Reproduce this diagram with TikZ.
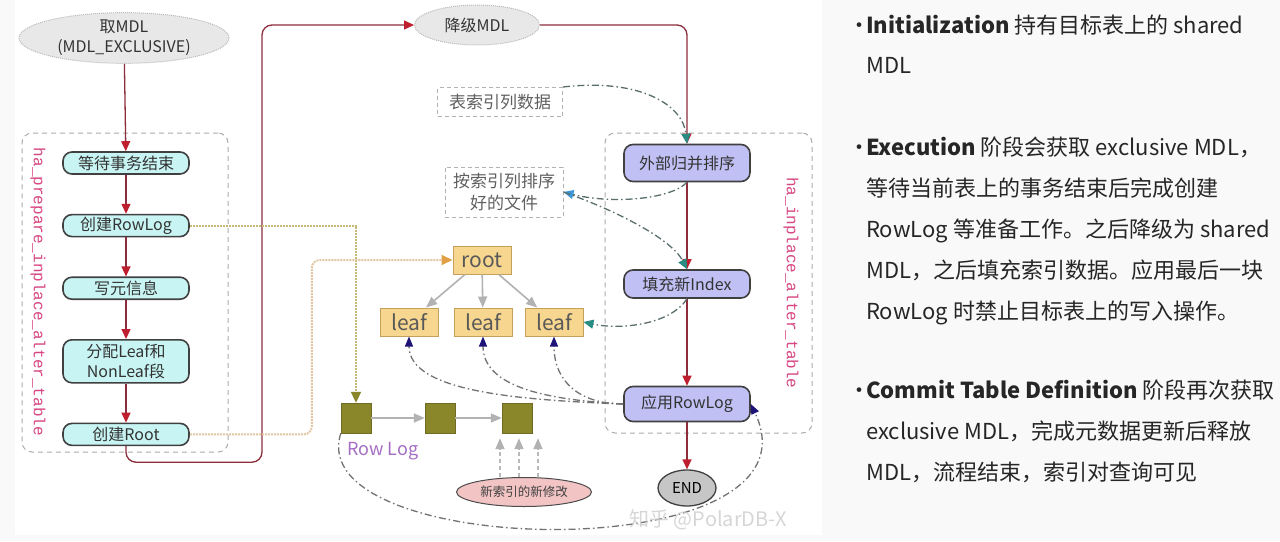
\documentclass[tikz,border=0pt]{standalone}
\usepackage{fontspec}
\setmainfont{Liberation Sans}
\setmonofont{Liberation Mono}
\newfontfamily\cjk{Noto Sans CJK SC}
\usepackage{xcolor}
\usepackage{tikz}
\usetikzlibrary{arrows.meta,positioning,shapes.geometric}

\definecolor{flowred}{RGB}{140,45,60}
\definecolor{tipred}{RGB}{190,30,45}
\definecolor{prepcyan}{RGB}{200,245,243}
\definecolor{execblue}{RGB}{192,192,245}
\definecolor{treefill}{RGB}{247,214,143}
\definecolor{treeline}{RGB}{196,160,90}
\definecolor{logolive}{RGB}{138,134,42}
\definecolor{logline}{RGB}{196,186,120}
\definecolor{rootline}{RGB}{225,200,165}
\definecolor{roottip}{RGB}{225,160,70}
\definecolor{feedline}{RGB}{90,110,110}
\definecolor{feedtip}{RGB}{40,140,130}
\definecolor{sorttip}{RGB}{60,150,215}
\definecolor{replaytip}{RGB}{30,20,120}
\definecolor{grouppink}{RGB}{215,70,130}
\definecolor{rowlogpurple}{RGB}{165,110,195}
\definecolor{modpink}{RGB}{242,196,196}

\newcommand{\boxfont}{\cjk\fontsize{16}{20}\selectfont}

\begin{document}
\begin{tikzpicture}[x=1pt,y=-1pt,node distance=39pt,font=\boxfont]
  \tikzstyle{mdl}=[ellipse,draw=gray!55,densely dotted,line width=1pt,fill=gray!18,text=black!80,align=center,inner sep=0pt]
  \tikzstyle{prep}=[rectangle,rounded corners=9pt,draw=black!75,line width=1.6pt,fill=prepcyan,text=black!80,minimum width=126pt,minimum height=22pt,inner sep=1pt,align=center]
  \tikzstyle{exec}=[prep,fill=execblue]
  \tikzstyle{stagebox}=[rectangle,rounded corners=10pt,draw=gray!65,dash pattern=on 5pt off 4pt,line width=1pt]
  \tikzstyle{stagename}=[rotate=-90,text=grouppink,font=\ttfamily\fontsize{16}{16}\selectfont]
  \tikzstyle{datafile}=[rectangle,draw=gray!60,dash pattern=on 4pt off 3pt,line width=1pt,text=gray!75!black,align=center,inner sep=2pt,font=\cjk\fontsize{17}{22}\selectfont]
  \tikzstyle{treenode}=[rectangle,draw=treeline,line width=1pt,fill=treefill,text=black!65,font=\cjk\fontsize{21}{22}\selectfont,minimum width=58pt,minimum height=28pt,inner sep=0pt]
  \tikzstyle{logblock}=[rectangle,draw=logolive!80!black,fill=logolive,minimum size=30pt,inner sep=0pt]
  \tikzstyle{flow}=[draw=flowred,line width=1.3pt,-{Triangle[width=9pt,length=10pt,color=tipred]}]
  \tikzstyle{treelink}=[draw=gray!60,line width=1.6pt,-{Triangle[width=9pt,length=11pt,color=gray!60]}]
  \tikzstyle{writes}=[draw=gray!55,dash pattern=on 4pt off 3pt,line width=1.5pt,-{Triangle[width=9pt,length=11pt,color=gray!60]}]
  \tikzstyle{feed}=[draw=feedline,dash pattern=on 7pt off 3pt on 1.5pt off 3pt,line width=1.3pt,-{Triangle[width=9pt,length=10pt,color=feedtip]}]
  \tikzstyle{replay}=[draw=black!55,dash pattern=on 7pt off 3pt on 1.5pt off 3pt,line width=1.3pt,-{Triangle[width=8pt,length=10pt,color=replaytip]}]
  \tikzstyle{logfeed}=[draw=logline,densely dotted,line width=2pt,-{Triangle[width=10pt,length=11pt,color=logolive]}]
  \tikzstyle{rootfeed}=[draw=rootline,densely dotted,line width=2pt,rounded corners=8pt,-{Triangle[width=10pt,length=11pt,color=roottip]}]
  \tikzstyle{notes}=[anchor=base west,inner sep=0pt,text=black!85,font=\cjk\fontsize{22}{26}\selectfont]

  \useasboundingbox (0,0) rectangle (1280,541);
  \fill[gray!5] (0,0) rectangle (1280,541);
  \fill[white] (15,0) rectangle (822,535);

  % Stages
  \node[stagebox,minimum width=206pt,minimum height=319pt] (prepgroup) at (125,292.5) {};
  \node[stagename] (prepname) at (38,292) {ha\_prepare\_inplace\_alter\_table};
  \node[stagebox,minimum width=207pt,minimum height=300pt] (inplacegroup) at (708.5,283) {};
  \node[stagename] (inplacename) at (791,283) {ha\_inplace\_alter\_table};

  % Prepare steps
  \node[mdl,minimum width=210pt,minimum height=50pt] (getmdl) at (124,38) {取MDL\\(MDL\_EXCLUSIVE)};
  \node[prep] (wait) at (126,163) {等待事务结束};
  \node[prep,below=of wait] (rowlog) {创建RowLog};
  \node[prep,below=of rowlog] (meta) {写元信息};
  \node[prep,below=of meta,minimum height=43pt] (alloc) {分配Leaf和\\NonLeaf段};
  \node[prep,below=of alloc] (mkroot) {创建Root};

  % Inplace steps
  \node[mdl,minimum width=125pt,minimum height=40pt] (downmdl) at (477,25) {降级MDL};
  \node[exec,minimum height=37pt] (extsort) at (687,163) {外部归并排序};
  \node[exec,minimum height=28pt] (fillidx) at (687,284) {填充新Index};
  \node[exec,minimum height=35pt] (applylog) at (687,404) {应用RowLog};
  \node[ellipse,draw=black!75,line width=1.3pt,fill=gray!45,minimum width=58pt,minimum height=36pt,inner sep=0pt,font=\cjk\fontsize{15}{16}\selectfont] (finish) at (687,488) {END};

  % Data
  \node[datafile,minimum width=125pt,minimum height=29pt] (coldata) at (500,102) {表索引列数据};
  \node[datafile,minimum width=118pt,minimum height=50pt] (sorted) at (504,192) {按索引列排序\\好的文件};
  \node[treenode] (root) at (482,260) {root};
  \node[treenode] (leafa) at (409,322) {leaf};
  \node[treenode] (leafb) at (483,322) {leaf};
  \node[treenode] (leafc) at (554,322) {leaf};
  \node[logblock] (loga) at (356,418) {};
  \node[logblock] (logb) at (440,418) {};
  \node[logblock] (logc) at (517,418) {};
  \node[text=rowlogpurple,font=\cjk\fontsize{18}{20}\selectfont] (rowlogname) at (383,451) {Row Log};
  \node[ellipse,draw=black!70,line width=1pt,fill=modpink,minimum width=135pt,minimum height=29pt,inner sep=0pt,text=black!75,font=\cjk\fontsize{12.5}{14}\selectfont] (newmod) at (524,492) {新索引的新修改};

  % Main flow
  \coordinate (jump) at (262,25);
  \draw[flow] (getmdl) -- (wait);
  \draw[flow] (wait) -- (rowlog);
  \draw[flow] (rowlog) -- (meta);
  \draw[flow] (meta) -- (alloc);
  \draw[flow] (alloc) -- (mkroot);
  \draw[flow,rounded corners=10pt] (mkroot.south) -- ++(0,16) -| (jump) -- (downmdl.west);
  \draw[flow,rounded corners=10pt] (downmdl.east) -| (extsort.north);
  \draw[flow] (extsort) -- (fillidx);
  \draw[flow] (fillidx) -- (applylog);
  \draw[flow] (applylog) -- (finish);

  % Build links
  \draw[logfeed] (rowlog.east) -| (loga.north);
  \draw[rootfeed] (mkroot.east) -- ++(122,0) |- (root.west);
  \foreach \leaf in {leafa,leafb,leafc}
    \draw[treelink] (root) -- (\leaf);
  \draw[treelink] (loga) -- (logb);
  \draw[treelink] (logb) -- (logc);
  \foreach \dx in {-17,2,21}
    \draw[writes] ([xshift=\dx pt]logc.south |- newmod.north) -- ([xshift=\dx pt,yshift=-5pt]logc.south);

  % Sort and fill
  \draw[feed] (coldata.north east) .. controls (640,78) and (683,105) .. (extsort.north);
  \draw[feed,-{Triangle[width=9pt,length=10pt,color=sorttip]}] (extsort.south) .. controls (670,200) and (610,204) .. (sorted.east);
  \draw[feed] (sorted.east) .. controls (620,212) and (672,240) .. (fillidx.north);
  \draw[feed] (fillidx.south) .. controls (670,325) and (620,330) .. (leafc.east);

  % Replay
  \draw[replay] (applylog.west) .. controls (520,400) and (409,392) .. (leafa.south);
  \draw[replay] (applylog.west) .. controls (550,400) and (483,388) .. (leafb.south);
  \draw[replay] (applylog.west) .. controls (580,404) and (554,382) .. (leafc.south);
  \draw[replay] (loga.south west) .. controls (300,560) and (830,570) .. (applylog.east);

  \node[text=gray!40,opacity=0.8,font=\cjk\fontsize{20}{22}\selectfont] (mark) at (708,520) {知乎 @PolarDB-X};

  % Notes
  \node[notes] (initdot) at (848,33) {•};
  \node[notes] (initline) at (866,33) {\textbf{Initialization} 持有目标表上的 shared};
  \node[notes] (initmore) at (866,73) {MDL};
  \node[notes] (execdot) at (848,155) {•};
  \node[notes] (execline) at (866,155) {\textbf{Execution} 阶段会获取 exclusive MDL，};
  \node[notes] (execmore) at (866,196) {等待当前表上的事务结束后完成创建};
  \node[notes] (execthird) at (866,237) {RowLog 等准备工作。之后降级为 shared};
  \node[notes] (execfourth) at (866,278) {MDL，之后填充索引数据。应用最后一块};
  \node[notes] (execlast) at (866,319) {RowLog 时禁止目标表上的写入操作。};
  \node[notes] (commitdot) at (848,398) {•};
  \node[notes] (commitline) at (866,398) {\textbf{Commit Table Definition} 阶段再次获取};
  \node[notes] (commitmore) at (866,439) {exclusive MDL，完成元数据更新后释放};
  \node[notes] (commitlast) at (866,480) {MDL，流程结束，索引对查询可见};
\end{tikzpicture}
\end{document}
